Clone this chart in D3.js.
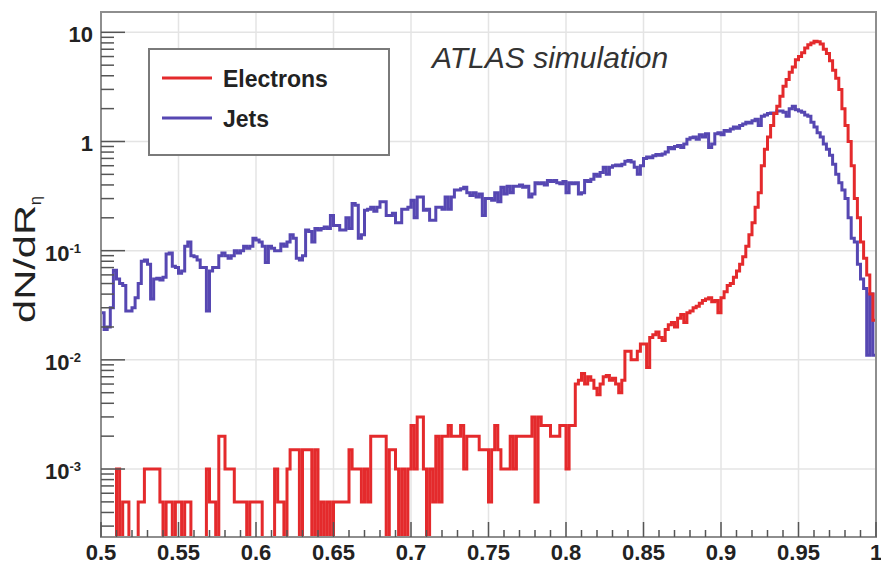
<!DOCTYPE html>
<html><head><meta charset="utf-8">
<script src="https://cdn.jsdelivr.net/npm/d3@7"></script>
<style>
body{margin:0;background:#fff;}
svg{display:block;font-family:"Liberation Sans",Arial,Helvetica,sans-serif;}
</style>
</head><body>
<svg id="chart" width="881" height="564"></svg>
<script>
// ---- data ----
const binLow = 0.5, binHigh = 1.0, nBins = 250;
const xTicks = [0.5,0.55,0.6,0.65,0.7,0.75,0.8,0.85,0.9,0.95,1.0];
const xTickLabels = ["0.5","0.55","0.6","0.65","0.7","0.75","0.8","0.85","0.9","0.95","1"];
const yTicks = [1e-3,1e-2,1e-1,1,10];
const yTickBase = ["10","10","10","1","10"];
const yTickExp = ["-3","-2","-1","",""];
const seriesNames = ["Electrons","Jets"];
const seriesColors = ["#e42a2c","#5647b2"];

const electrons = [
0,0,0,0,0,1e-3,0,5e-4,5e-4,0,
0,0,5e-4,5e-4,1e-3,1e-3,1e-3,1e-3,1e-3,5e-4,
0,5e-4,5e-4,0,5e-4,5e-4,0,5e-4,5e-4,0,
0,0,0,0,1e-3,5e-4,5e-4,0,2e-3,2e-3,
1e-3,1e-3,1e-3,5e-4,5e-4,5e-4,5e-4,0,5e-4,5e-4,
5e-4,5e-4,0,0,0,0,1e-3,5e-4,5e-4,0,
1e-3,1.5e-3,1.5e-3,1.5e-3,0,1.5e-3,1.5e-3,1.5e-3,0,1.5e-3,
0,5e-4,0,5e-4,0,5e-4,5e-4,5e-4,5e-4,5e-4,
1.5e-3,1e-3,1e-3,1e-3,5e-4,1e-3,5e-4,2e-3,2e-3,2e-3,
2e-3,2e-3,0,1.5e-3,1.5e-3,1e-3,0,1e-3,0,1e-3,
2.5e-3,1e-3,3e-3,3e-3,1e-3,0,1e-3,5e-4,2e-3,5e-4,
2e-3,2e-3,2.5e-3,2e-3,2e-3,2e-3,2.5e-3,1e-3,2e-3,2e-3,
2e-3,2e-3,1.5e-3,1.5e-3,1.5e-3,5e-4,1.5e-3,2.5e-3,1.5e-3,1e-3,
1e-3,1e-3,2e-3,1e-3,2e-3,2e-3,2e-3,2e-3,2e-3,3e-3,
5e-4,3e-3,2.5e-3,2.5e-3,2.5e-3,2e-3,2e-3,2e-3,2.5e-3,2.5e-3,
1e-3,2.5e-3,2.5e-3,0.006,0.0065,0.0075,0.006,0.007,0.0065,0.0055,
0.0048,0.006,0.007,0.0072,0.0065,0.0068,0.006,0.005,0.0065,0.012,
0.012,0.01,0.01,0.012,0.014,0.014,0.0085,0.016,0.017,0.018,
0.016,0.015,0.019,0.021,0.022,0.02,0.024,0.026,0.022,0.027,
0.028,0.03,0.031,0.033,0.035,0.036,0.037,0.034,0.035,0.027,
0.037,0.042,0.048,0.05,0.057,0.065,0.075,0.088,0.11,0.14,
0.18,0.25,0.34,0.6,0.85,1.1,1.4,1.8,2.1,2.6,
3.2,3.7,4.3,4.8,5.6,6.0,6.5,7.2,7.7,8.0,
8.3,8.2,7.8,7.0,6.4,5.5,4.5,3.8,3.0,2.0,
1.4,1.0,0.6,0.3,0.2,0.12,0.085,0.06,0.04,0.023
];

const jets = [
0.027,0.019,0.02,0.03,0.066,0.055,0.05,0.048,0.028,0.028,
0.03,0.037,0.05,0.08,0.082,0.075,0.036,0.055,0.056,0.054,
0.057,0.093,0.095,0.072,0.07,0.062,0.065,0.11,0.12,0.09,
0.088,0.082,0.07,0.07,0.028,0.065,0.07,0.07,0.09,0.095,
0.09,0.085,0.09,0.1,0.095,0.1,0.11,0.105,0.11,0.13,
0.125,0.12,0.11,0.078,0.11,0.105,0.1,0.1,0.115,0.11,
0.12,0.14,0.13,0.085,0.082,0.09,0.155,0.15,0.12,0.16,
0.155,0.16,0.165,0.16,0.21,0.17,0.17,0.155,0.155,0.2,
0.16,0.27,0.26,0.13,0.14,0.235,0.24,0.25,0.23,0.25,
0.28,0.28,0.21,0.21,0.22,0.18,0.18,0.24,0.24,0.25,
0.29,0.2,0.31,0.31,0.235,0.24,0.19,0.19,0.25,0.25,
0.24,0.31,0.24,0.31,0.36,0.36,0.37,0.38,0.34,0.32,
0.34,0.31,0.33,0.21,0.3,0.3,0.29,0.34,0.28,0.38,
0.33,0.39,0.34,0.39,0.39,0.4,0.38,0.39,0.31,0.33,
0.42,0.41,0.42,0.4,0.44,0.43,0.44,0.42,0.41,0.43,
0.34,0.42,0.41,0.42,0.33,0.34,0.44,0.43,0.45,0.5,
0.48,0.52,0.58,0.5,0.58,0.6,0.61,0.6,0.62,0.66,
0.67,0.65,0.58,0.5,0.6,0.7,0.72,0.71,0.74,0.76,
0.75,0.77,0.8,0.88,0.86,0.9,0.92,0.88,0.95,1.05,
1.08,1.1,1.05,1.15,1.1,1.18,0.88,0.95,1.18,1.2,
1.15,1.26,1.24,1.3,1.36,1.32,1.4,1.45,1.5,1.48,
1.55,1.6,1.4,1.7,1.75,1.8,1.82,1.8,1.9,1.9,
1.85,1.7,2.0,2.1,1.95,1.9,1.85,1.75,1.7,1.5,
1.36,1.2,1.1,0.95,0.85,0.75,0.62,0.5,0.42,0.36,
0.3,0.2,0.13,0.12,0.075,0.055,0.045,0.011,0.04,0.011
];

// ---- layout ----
const L = 101, R = 876, T = 12, B = 537;
const yMin = 2.384e-4, yMax = 15.35;
const svg = d3.select("#chart");
const x = d3.scaleLinear().domain([binLow, binHigh]).range([L, R]);
const y = d3.scaleLog().domain([yMin, yMax]).range([B, T]);

svg.append("rect").attr("width",881).attr("height",564).attr("fill","#fff");

// grid
const grid = svg.append("g").attr("stroke","#e4e4e4").attr("stroke-width",1.5);
xTicks.slice(1,-1).forEach(t => grid.append("line")
  .attr("x1",x(t)).attr("x2",x(t)).attr("y1",T).attr("y2",B));
yTicks.forEach(t => grid.append("line")
  .attr("x1",L).attr("x2",R).attr("y1",y(t)).attr("y2",y(t)));

// histograms
svg.append("clipPath").attr("id","clip").append("rect")
  .attr("x",L).attr("y",T).attr("width",R-L).attr("height",B-T);
const bw = (binHigh-binLow)/nBins;
function steps(vals){
  const pts = vals.map((v,i)=>[binLow+i*bw, v]);
  pts.push([binHigh, vals[vals.length-1]]);
  return pts;
}
const line = d3.line()
  .x(d=>x(d[0]))
  .y(d=>y(Math.max(d[1], yMin*0.9)))
  .curve(d3.curveStepAfter);
const gh = svg.append("g").attr("clip-path","url(#clip)");
gh.append("path").attr("d", line(steps(jets)))
  .attr("fill","none").attr("stroke",seriesColors[1]).attr("stroke-width",3)
  .attr("stroke-linejoin","miter");
gh.append("path").attr("d", line(steps(electrons)))
  .attr("fill","none").attr("stroke",seriesColors[0]).attr("stroke-width",3)
  .attr("stroke-linejoin","miter");

// frame
svg.append("rect").attr("x",L).attr("y",T).attr("width",R-L).attr("height",B-T)
  .attr("fill","none").attr("stroke","#8e8e8e").attr("stroke-width",2);

// ticks
const tk = svg.append("g").attr("stroke","#555").attr("stroke-width",1.5);
d3.range(0, 51).forEach(i => {
  const v = binLow + i*0.01;
  const major = i % 5 === 0;
  tk.append("line").attr("x1",x(v)).attr("x2",x(v))
    .attr("y1",B).attr("y2",B-(major?15:7));
});
[-4,-3,-2,-1,0,1].forEach(e => {
  for (let k=1;k<=9;k++){
    const v = k*Math.pow(10,e);
    if (v < yMin || v > yMax) continue;
    tk.append("line").attr("x1",L).attr("x2",L+(k===1?24:13))
      .attr("y1",y(v)).attr("y2",y(v));
  }
});

// tick labels
svg.append("g").selectAll("text").data(xTicks).join("text")
  .attr("x",d=>x(d)).attr("y",560).attr("text-anchor","middle")
  .attr("font-size",22).attr("font-weight","bold").attr("fill","#222")
  .text((d,i)=>xTickLabels[i]);
const yl = svg.append("g").attr("font-size",22).attr("font-weight","bold").attr("fill","#222");
yTicks.forEach((t,i)=>{
  const txt = yl.append("text").attr("y", y(t)+10)
    .attr("x", yTickExp[i] ? 81 : 93).attr("text-anchor","end");
  txt.append("tspan").text(yTickBase[i]);
  if (yTickExp[i]) txt.append("tspan").attr("font-size",13).attr("dy",-8).text(yTickExp[i]);
});

// y title
const yt = svg.append("text").attr("transform","translate(35,323) rotate(-90)")
  .attr("font-size",30).attr("fill","#222");
yt.append("tspan").attr("textLength",118).attr("lengthAdjust","spacingAndGlyphs").text("dN/dR");
yt.append("tspan").attr("font-size",16).attr("dy",6).text("η");

// legend
const lg = svg.append("g");
lg.append("rect").attr("x",149).attr("y",49).attr("width",240).attr("height",106)
  .attr("fill","#fff").attr("stroke","#7a7a7a").attr("stroke-width",2);
[78,118].forEach((yy,i)=>{
  lg.append("line").attr("x1",162).attr("x2",212).attr("y1",yy).attr("y2",yy)
    .attr("stroke",seriesColors[i]).attr("stroke-width",3);
  lg.append("text").attr("x",223).attr("y",yy+9).attr("font-size",23)
    .attr("font-weight","bold").attr("fill","#222").text(seriesNames[i]);
});

svg.append("text").attr("x",432).attr("y",68).attr("font-size",30)
  .attr("font-style","italic").attr("fill","#333").text("ATLAS simulation");
</script>
</body></html>
